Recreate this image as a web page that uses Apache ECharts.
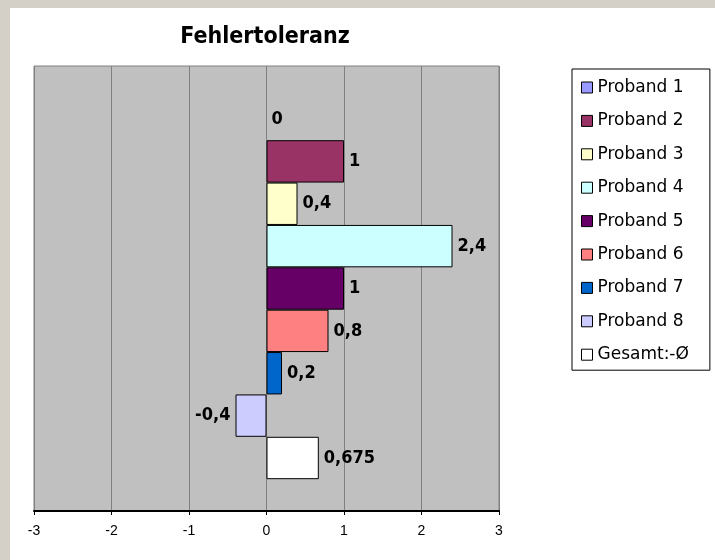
<!DOCTYPE html>
<html>
<head>
<meta charset="utf-8">
<script src="https://cdn.jsdelivr.net/npm/echarts@6/dist/echarts.min.js"></script>
<style>
  html, body { margin: 0; padding: 0; background: #d4d0c8; width: 715px; height: 560px; overflow: hidden; }
  #chart { position: absolute; left: 10px; top: 8px; width: 705px; height: 552px; background: #ffffff; }
</style>
</head>
<body>
<div id="chart"></div>
<script>
// Fehlertoleranz je Proband (Abweichung)
const seriesNames = ['Proband 1', 'Proband 2', 'Proband 3', 'Proband 4', 'Proband 5', 'Proband 6', 'Proband 7', 'Proband 8', 'Gesamt:-Ø'];
const values = [0, 1, 0.4, 2.4, 1, 0.8, 0.2, -0.4, 0.675];
const colors = ['#9999ff', '#993366', '#ffffcc', '#ccffff', '#660066', '#ff8080', '#0066cc', '#ccccff', '#ffffff'];
const categories = [''];
const xTicks = [-3, -2, -1, 0, 1, 2, 3];

const fmt = v => String(v).replace('.', ',');

const series = seriesNames.map((name, i) => ({
  name: name,
  type: 'bar',
  barGap: '0%',
  barCategoryGap: '14.3%',
  // a zero-length bar draws no outline
  itemStyle: { color: colors[i], borderColor: '#000000', borderWidth: values[i] === 0 ? 0 : 1 },
  label: {
    show: true,
    position: values[i] < 0 ? 'left' : 'right',
    distance: 5,
    formatter: p => fmt(p.value),
    fontFamily: 'DejaVu Sans Condensed',
    fontWeight: 'bold',
    fontSize: 18,
    color: '#000000'
  },
  data: [values[i]]
}));

const chart = echarts.init(document.getElementById('chart'), null, { renderer: 'canvas' });
chart.setOption({
  animation: false,
  color: colors,
  title: {
    text: 'Fehlertoleranz',
    left: 250,
    top: 13,
    textAlign: 'center',
    textStyle: { fontFamily: 'DejaVu Sans Condensed', fontWeight: 'bold', fontSize: 23, color: '#000000' }
  },
  grid: {
    left: 24, top: 58, width: 465, height: 445,
    show: true, backgroundColor: '#c0c0c0', borderColor: '#808080', borderWidth: 1
  },
  legend: {
    orient: 'vertical',
    left: 562, top: 61,
    padding: [10, 21, 7, 9],
    itemWidth: 11, itemHeight: 11,
    itemGap: 16.4,
    icon: 'rect',
    borderColor: '#000000', borderWidth: 1,
    itemStyle: { borderColor: '#000000', borderWidth: 1 },
    textStyle: { fontFamily: 'DejaVu Sans', fontSize: 17, color: '#000000' },
    data: seriesNames
  },
  xAxis: {
    type: 'value',
    min: xTicks[0], max: xTicks[xTicks.length - 1], interval: 1,
    axisLine: { show: true, onZero: false, lineStyle: { color: '#000000', width: 2 } },
    axisTick: { show: true, inside: false, length: 4, lineStyle: { color: '#000000' } },
    axisLabel: { color: '#000000', fontFamily: 'Liberation Sans', fontSize: 14, margin: 13, formatter: v => fmt(v) },
    splitLine: { show: true, lineStyle: { color: '#808080', width: 1 } }
  },
  yAxis: {
    type: 'category',
    inverse: true,
    data: categories,
    axisLine: { show: false },
    axisTick: { show: false },
    axisLabel: { show: false }
  },
  series: series
});
</script>
</body>
</html>
